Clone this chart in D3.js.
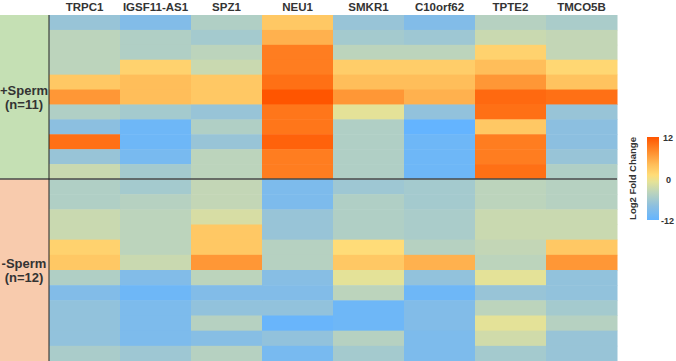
<!DOCTYPE html>
<html>
<head>
<meta charset="utf-8">
<script src="https://cdn.jsdelivr.net/npm/d3@7"></script>
<style>
  body { margin: 0; background: #fff; }
  text { font-family: "Liberation Sans", Arial, sans-serif; font-weight: bold; fill: #333; }
</style>
</head>
<body>
<svg id="chart" width="676" height="361"></svg>
<script>
// genes across the top
const genes = ["TRPC1", "IGSF11-AS1", "SPZ1", "NEU1", "SMKR1", "C10orf62", "TPTE2", "TMCO5B"];

// log2 fold change, one array per gene, rows top to bottom (+Sperm 11 rows)
const plusSperm = {
  "TRPC1":      [-7, -4, -4, -4, 3, 7, -5, -8, 10, -7, -3],
  "IGSF11-AS1": [-9, -5, -5, 2, 4, 4, -6, -11, -11, -10, -6],
  "SPZ1":       [-5, -6, -4, -3, 3, 3, -7, -5, -7, -4, -4],
  "NEU1":       [3, 5, 9, 9, 10, 12, 9.5, 9.5, 11, 9, 9],
  "SMKR1":      [-7, -6, -4, 2.5, 4, 7, -1, -5, -5, -5, -5],
  "C10orf62":   [-9, -6.5, -4, 2.5, 4, 5, -7.5, -12, -11, -11, -11],
  "TPTE2":      [-4.5, -3, 2, 4, 7, 10.5, 10, 3, 9, 9, 10],
  "TMCO5B":     [-5.5, -3.5, -3.5, 1.5, 3.5, 10, -7, -8, -8, -7, -5]
};

// -Sperm 12 rows
const minusSperm = {
  "TRPC1":      [-5, -5, -3, -3, 2, 3, -5, -9, -7.5, -7.5, -7.5, -5.5],
  "IGSF11-AS1": [-6, -4.5, -4, -4, -4, -3, -9, -11, -9.5, -9.5, -9.5, -6.5],
  "SPZ1":       [-3.5, -3.5, -2, 3, 3, 7, -4, -9, -7.5, -4.5, -8.5, -4.5],
  "NEU1":       [-9.5, -9.5, -7, -7, -4.5, -4.5, -8.5, -9, -7.5, -11.5, -7.5, -10],
  "SMKR1":      [-6.5, -5, -5, -5, 1, 3, -1, -4, -11, -11, -4.5, -6],
  "C10orf62":   [-6, -6, -5.5, -5.5, -4.5, 5, -7.5, -11, -9, -9, -9.5, -9.5],
  "TPTE2":      [-4, -4, -3, -3, -3.5, -4, -1, -7, -4, -1, -2.5, -6],
  "TMCO5B":     [-4.5, -4.5, -3, -3, 3, 7, -7.5, -7.5, -6, -4.5, -7, -7]
};

const groups = [
  { name: "+Sperm", n: "(n=11)", values: plusSperm, fill: "#c5e0b4" },
  { name: "-Sperm", n: "(n=12)", values: minusSperm, fill: "#f8cbad" }
];

const legendTicks = [12, 0, -12];

const svg = d3.select("#chart");

const leftX = 49, rightX = 617, topY = 15, midY = 179, bottomY = 361;

const x = d3.scaleBand().domain(genes).range([leftX, rightX]);

// colour ramp
const color = d3.scaleLinear()
    .domain([-12, -8, -4, -1, 1, 4, 8, 12])
    .range(["#64b4ff", "#8cbfe0", "#bcd4bc", "#e4e298", "#ffdc78", "#ffbe5a", "#ff8a2a", "#ff5500"])
    .clamp(true);

groups.forEach((g, gi) => {
  const nRows = g.values[genes[0]].length;
  const y0 = gi === 0 ? topY : midY;
  const y1 = gi === 0 ? midY : bottomY;
  const y = d3.scaleBand().domain(d3.range(nRows)).range([y0, y1]);

  // label panel on the left
  svg.append("rect")
    .attr("x", 0).attr("y", y0)
    .attr("width", leftX).attr("height", y1 - y0)
    .attr("fill", g.fill);

  const cells = [];
  genes.forEach(gene => {
    g.values[gene].forEach((v, i) => cells.push({ gene, row: i, v }));
  });

  svg.append("g").selectAll("rect")
    .data(cells)
    .join("rect")
    .attr("x", d => x(d.gene))
    .attr("y", d => y(d.row))
    .attr("width", x.bandwidth() + 0.5)
    .attr("height", y.bandwidth() + 0.5)
    .attr("fill", d => color(d.v));

  const cy = (y0 + y1) / 2;
  svg.append("text")
    .attr("x", 24).attr("y", cy - 2)
    .attr("text-anchor", "middle")
    .style("font-size", "13px")
    .text(g.name);
  svg.append("text")
    .attr("x", 24).attr("y", cy + 12)
    .attr("text-anchor", "middle")
    .style("font-size", "13px")
    .text(g.n);
});

// column headers
svg.append("g").selectAll("text")
  .data(genes)
  .join("text")
  .attr("x", d => x(d) + x.bandwidth() / 2)
  .attr("y", 11)
  .attr("text-anchor", "middle")
  .style("font-size", "11.5px")
  .text(d => d);

// divider lines
svg.append("line")
  .attr("x1", 0).attr("x2", rightX)
  .attr("y1", midY).attr("y2", midY)
  .attr("stroke", "#4a4a4a").attr("stroke-width", 1.5);
svg.append("line")
  .attr("x1", leftX).attr("x2", leftX)
  .attr("y1", topY).attr("y2", bottomY)
  .attr("stroke", "#222").attr("stroke-width", 1);

// legend
const legY = d3.scaleLinear().domain([12, -12]).range([137, 220]);
const defs = svg.append("defs");
const grad = defs.append("linearGradient")
  .attr("id", "legGrad")
  .attr("x1", 0).attr("x2", 0).attr("y1", 0).attr("y2", 1);
d3.range(12, -12.01, -1).forEach(v => {
  grad.append("stop")
    .attr("offset", (12 - v) / 24)
    .attr("stop-color", color(v));
});
svg.append("rect")
  .attr("x", 647).attr("y", legY(12))
  .attr("width", 12).attr("height", legY(-12) - legY(12))
  .attr("fill", "url(#legGrad)");

svg.append("g").selectAll("text")
  .data(legendTicks)
  .join("text")
  .attr("x", d => d < 0 ? 661 : (d === 0 ? 666 : 663))
  .attr("y", d => legY(d) + 4)
  .style("font-size", "9px")
  .text(d => d);

svg.append("text")
  .attr("transform", `translate(636,${(legY(12) + legY(-12)) / 2}) rotate(-90)`)
  .attr("text-anchor", "middle")
  .style("font-size", "9.5px")
  .text("Log2 Fold Change");
</script>
</body>
</html>
